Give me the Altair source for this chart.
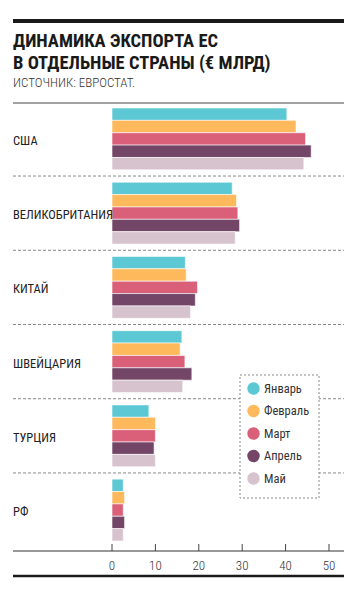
import altair as alt
import pandas as pd

countries = ["США", "ВЕЛИКОБРИТАНИЯ", "КИТАЙ", "ШВЕЙЦАРИЯ", "ТУРЦИЯ", "РФ"]
months = ["Январь", "Февраль", "Март", "Апрель", "Май"]
colors = ["#5BC8D4", "#FDB95B", "#DA607A", "#734566", "#D6C3CD"]

jan = [40.3, 27.7, 16.9, 16.1, 8.5, 2.6]
feb = [42.4, 28.7, 17.1, 15.7, 10.0, 2.9]
mar = [44.6, 29.0, 19.7, 16.8, 10.0, 2.6]
apr = [45.9, 29.4, 19.2, 18.4, 9.7, 2.9]
may = [44.2, 28.4, 18.1, 16.3, 10.0, 2.6]

ticks = [0, 10, 20, 30, 40, 50]

title_lines = ["ДИНАМИКА ЭКСПОРТА ЕС", "В ОТДЕЛЬНЫЕ СТРАНЫ (€ МЛРД)"]
subtitle = "ИСТОЧНИК: ЕВРОСТАТ."

FONT = "Roboto Condensed, Liberation Sans Narrow, Roboto, sans-serif"

# band keys: one per bar, plus one spacer between country groups
keys = []
for i, c in enumerate(countries):
    keys += [c + "|" + m for m in months]
    if i < len(countries) - 1:
        keys.append("gap|" + c)

rows = []
for m, vals in zip(months, [jan, feb, mar, apr, may]):
    for c, v in zip(countries, vals):
        rows.append({"key": c + "|" + m, "country": c, "month": m, "value": v})
df = pd.DataFrame(rows)
sep_df = pd.DataFrame({"key": ["gap|" + c for c in countries[:-1]]})
lab_df = pd.DataFrame({"key": [c + "|" + months[2] for c in countries], "country": countries})
tdf = pd.DataFrame({"t": ticks, "lab": [str(t) for t in ticks]})
one = pd.DataFrame({"k": [0]})

W, H = 232, 443
AX = 448  # axis line position
yscale = alt.Scale(domain=keys, paddingInner=0, paddingOuter=0.404)
xscale = alt.Scale(domain=[0, 53.46], nice=False, zero=False)

bars = alt.Chart(df).mark_bar(stroke="white", strokeWidth=0.6).encode(
    x=alt.X("value:Q", scale=xscale, axis=None),
    y=alt.Y("key:N", scale=yscale, axis=None, sort=keys),
    color=alt.Color("month:N", sort=months,
                    scale=alt.Scale(domain=months, range=colors),
                    legend=alt.Legend(orient="none", legendX=128, legendY=272, title=None,
                                      symbolType="circle", symbolSize=154, symbolStrokeWidth=0,
                                      labelFontSize=12.5, labelColor="#333", labelFont=FONT,
                                      rowPadding=9.5, padding=7)),
)

seps = alt.Chart(sep_df).mark_rule(strokeDash=[3, 2], color="#888", strokeWidth=1).encode(
    y=alt.Y("key:N", scale=yscale, bandPosition=0.5, sort=keys, axis=None),
    x=alt.value(-99), x2=alt.value(W),
)

legend_box = alt.Chart(one).mark_rect(fill="white", stroke="#888", strokeDash=[2, 2],
                                      strokeWidth=1).encode(
    x=alt.value(128), x2=alt.value(207), y=alt.value(272), y2=alt.value(395))

labels = alt.Chart(lab_df).mark_text(align="left", baseline="middle", fontSize=12.5,
                                     color="#222", font=FONT, dy=2).encode(
    y=alt.Y("key:N", scale=yscale, bandPosition=0.5, sort=keys, axis=None),
    x=alt.value(-99), text="country:N",
)

tickmarks = alt.Chart(tdf).mark_rule(color="#444", strokeWidth=1).encode(
    x=alt.X("t:Q", scale=xscale, axis=None), y=alt.value(AX - 7), y2=alt.value(AX),
)
ticklabels = alt.Chart(tdf).mark_text(align="center", baseline="alphabetic", fontSize=13,
                                      color="#333", font=FONT, fontWeight=300).encode(
    x=alt.X("t:Q", scale=xscale, axis=None), y=alt.value(AX + 19), text="lab:N",
)

top_thin = alt.Chart(one).mark_rule(color="#444", strokeWidth=1).encode(
    x=alt.value(-99), x2=alt.value(W), y=alt.value(0))
axis_line = alt.Chart(one).mark_rule(color="#333", strokeWidth=1.2).encode(
    x=alt.value(-99), x2=alt.value(W), y=alt.value(AX))
bottom_thick = alt.Chart(one).mark_rule(color="#1a1a1a", strokeWidth=2.5).encode(
    x=alt.value(-99), x2=alt.value(W), y=alt.value(AX + 25))
top_thick = alt.Chart(one).mark_rule(color="#1a1a1a", strokeWidth=4).encode(
    x=alt.value(-99), x2=alt.value(W), y=alt.value(-82))

t1 = alt.Chart(one).mark_text(text=title_lines[0], align="left", baseline="alphabetic",
                              font=FONT, fontSize=18.5, fontWeight="bold", color="#1a1a1a").encode(
    x=alt.value(-99), y=alt.value(-56))
t2 = alt.Chart(one).mark_text(text=title_lines[1], align="left", baseline="alphabetic",
                              font=FONT, fontSize=18.5, fontWeight="bold", color="#1a1a1a").encode(
    x=alt.value(-99), y=alt.value(-34.5))
t3 = alt.Chart(one).mark_text(text=subtitle, align="left", baseline="alphabetic",
                              font=FONT, fontSize=13, fontWeight=300, color="#333").encode(
    x=alt.value(-99), y=alt.value(-15.7))

chart = alt.layer(top_thin, seps, legend_box, bars, labels, tickmarks, ticklabels, axis_line,
                  bottom_thick, top_thick, t1, t2, t3).properties(
    width=W, height=H,
    autosize=alt.AutoSizeParams(type="none"),
    padding={"left": 112, "top": 103, "right": 13, "bottom": 600 - 103 - H},
).configure_view(strokeWidth=0)

chart.save("out.html", embed_options={"renderer": "svg", "actions": False})
